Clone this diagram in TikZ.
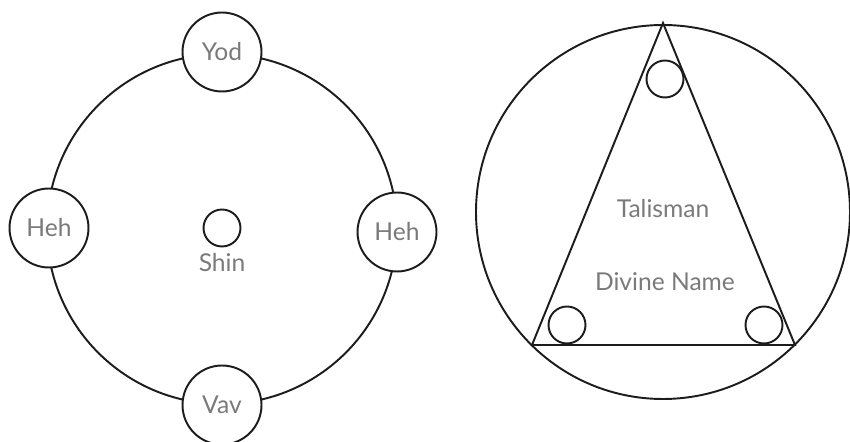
\documentclass[tikz,border=0pt]{standalone}
\usepackage{fontspec}
\setmainfont{Lato}
\usepackage{xcolor}
\usepackage{tikz}
\usetikzlibrary{positioning}
\definecolor{SealInk}{HTML}{1C1C1C}
\definecolor{SealMuted}{HTML}{7A7A7A}

\begin{document}
\begin{tikzpicture}[x=0.02cm,y=-0.02cm,
    letterdisc/.style={circle, draw=SealInk, fill=white, line width=1.1pt, minimum size=1.58cm, inner sep=0pt, text=SealMuted, font=\fontsize{14pt}{16pt}\selectfont},
    smalldisc/.style={circle, draw=SealInk, line width=1.1pt, minimum size=0.74cm, inner sep=0pt},
    sealtext/.style={text=SealMuted, font=\fontsize{14pt}{16pt}\selectfont}]
  \useasboundingbox (0,0) rectangle (850,442);
  % left seal: ring with the four letters
  \coordinate (ring) at (222,229);
  \draw[SealInk, line width=1.1pt] (ring) circle (175);
  \foreach \name/\x/\y/\label in {yod/222/52/Yod,hehl/49/228/Heh,hehr/397/232/Heh,vav/222/405/Vav} {
    \node[letterdisc] (\name) at (\x,\y) {\label};
  }
  \node[smalldisc] (shin) at (222,228) {};
  \node[sealtext, below=0pt of shin] (shinlabel) {Shin};
  % right seal: triangle in the circle
  \coordinate (disc) at (663,212);
  \coordinate (apex) at (663,23);
  \coordinate (baseleft) at (532,345);
  \coordinate (baseright) at (795,345);
  \draw[SealInk, line width=1.1pt] (disc) circle (187);
  \draw[SealInk, line width=1.1pt, line join=miter] (apex) -- (baseleft) -- (baseright) -- cycle;
  \foreach \name/\x/\y in {topdot/665/79,leftdot/567/325,rightdot/764/325} {
    \node[smalldisc] (\name) at (\x,\y) {};
  }
  \node[sealtext] (talisman) at (663,209) {Talisman};
  \node[sealtext] (divinename) at (665,282) {Divine Name};
\end{tikzpicture}
\end{document}
